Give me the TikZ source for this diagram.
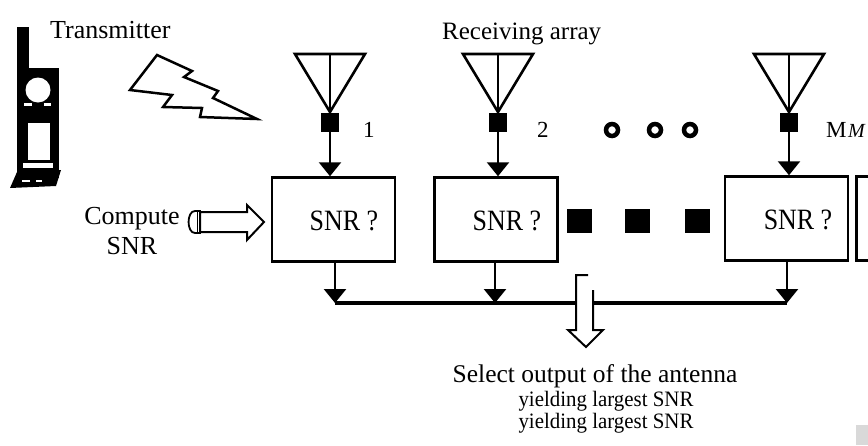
\documentclass[tikz,border=0pt]{standalone}
\usepackage{fontspec}
\setmainfont{Liberation Serif}
\newfontfamily\condfont[FakeStretch=0.88]{Liberation Serif}
\newfontfamily\semifont[FakeStretch=0.95]{Liberation Serif}
\usetikzlibrary{arrows.meta}
\begin{document}
\begin{tikzpicture}[x=1pt,y=-1pt,
  box/.style={draw, line width=2.5pt, minimum width=123pt, minimum height=84pt, inner sep=0pt},
  sq/.style={fill=black, minimum width=18pt, minimum height=19pt, inner sep=0pt},
  ant/.style={line width=2.6pt, line join=miter},
  conn/.style={line width=2.5pt, -{Triangle[width=22pt,length=14pt]}},
  bus/.style={line width=3.5pt},
  lbl/.style={font=\fontsize{23}{26}\selectfont, inner sep=0pt, anchor=base west},
  snr/.style={font=\condfont\fontsize{29.5}{32}\selectfont, inner sep=0pt},
  hollow/.style={line width=2pt, line join=miter, fill=white}
]
\useasboundingbox (0,0) rectangle (868,445);
\clip (0,0) rectangle (868,445);

% transmitter (handset)
\fill (17,27) rectangle (29,70);
\fill (17,68) rectangle (59,178);
\fill[white] (38,90) circle (12.5);
\fill[white] (24,103) rectangle (32,106);
\fill[white] (44,103) rectangle (51,106);
\fill[white] (28,123) rectangle (50,160);
\fill[white] (23,163) rectangle (53,168);
\fill (17,172) -- (61,170) -- (56,186) -- (10,188) -- cycle;
\fill[white] (22,180) rectangle (30,182);
\fill[white] (36,180) rectangle (42,182);
\node[font=\fontsize{26}{30}\selectfont, inner sep=0pt, anchor=base west] (tx) at (50,38) {Transmitter};

% lightning
\draw[line width=2.5pt, line join=miter, fill=white]
  (157,55) -- (192,71) -- (184,77) -- (218,91) -- (213,98) -- (257,119)
  -- (200,117) -- (202,108) -- (163,107) -- (172,95) -- (130,90) -- cycle;

\node[font=\fontsize{25}{30}\selectfont, inner sep=0pt, anchor=base west] (rx) at (442,39) {Receiving array};

% antennas
\foreach \c in {330,498,789}{
  \draw[ant] (\c-35,54) -- (\c+35,54) -- (\c,112) -- cycle;
  \draw[ant] (\c,54) -- (\c,112);
}
\node[sq] (s1) at (330,122.5) {};
\node[sq] (s2) at (498,122.5) {};
\node[sq] (sM) at (789,122.5) {};
\node[lbl] (l1) at (363,137) {1};
\node[lbl] (l2) at (537,137) {2};
\node[lbl] (lM) at (826,137) {M};
\node[lbl, font=\itshape\fontsize{20}{24}\selectfont] (lM2) at (848,137) {M};

% circles
\foreach \x in {612,655,690}{
  \draw[line width=4.5pt] (\x,130) circle (6);
}

% boxes
\node[box] (b1) at (333.5,219.5) {};
\node[box] (b2) at (496,219.5) {};
\node[box] (bM) at (786.5,218.5) {};
\node[box] (bX) at (918,218.5) {};
\node[snr] (t1) at (344,221) {SNR ?};
\node[snr] (t2) at (507,221) {SNR ?};
\node[snr] (tM) at (798,220) {SNR ?};

% small squares
\node[fill=black, minimum width=25pt, minimum height=24pt, inner sep=0pt] (q1) at (579.5,221) {};
\node[fill=black, minimum width=25pt, minimum height=24pt, inner sep=0pt] (q2) at (637.5,221) {};
\node[fill=black, minimum width=25pt, minimum height=24pt, inner sep=0pt] (q3) at (697.5,221) {};

% antenna to box
\draw[conn] (s1.south) -- (s1.south |- b1.north);
\draw[conn] (s2.south) -- (s2.south |- b2.north);
\draw[conn] (sM.south) -- (sM.south |- bM.north);

% boxes to bus
\coordinate (j1) at (335,303);
\coordinate (j2) at (495,303);
\coordinate (jM) at (787,303);
\draw[conn] (b1.south -| j1) -- (j1);
\draw[conn] (b2.south -| j2) -- (j2);
\draw[conn] (bM.south -| jM) -- (jM);
\draw[bus] (j1) -- (jM);

% hollow down arrow
\fill[white] (576,275) -- (593,275) -- (593,330) -- (603,330) -- (586,347) -- (568,330) -- (576,330) -- cycle;
\draw[line width=2pt, line join=miter] (588,275) -- (576,275) -- (576,330) -- (568,330) -- (586,347) -- (603,330) -- (593,330) -- (593,290);

% compute SNR
\node[font=\fontsize{26}{30}\selectfont, align=center, inner sep=0pt] (comp) at (132,231) {Compute\\SNR};
\draw[hollow] (200,212) -- (247,212) -- (247,205) -- (264,222) -- (247,240) -- (247,232) -- (200,232) -- cycle;
\draw[line width=1.8pt, fill=white] (200,211) -- (195,211) to[out=180,in=180] (195,233) -- (200,233) -- cycle;
\draw[line width=1pt] (197,212) -- (197,232);

% result text
\node[font=\fontsize{25.5}{30}\selectfont, inner sep=0pt, anchor=base] (sel1) at (595,382) {Select output of the antenna};
\node[font=\semifont\fontsize{22}{26}\selectfont, inner sep=0pt, anchor=base] (sel2) at (606,406) {yielding largest SNR};
\node[font=\semifont\fontsize{22}{26}\selectfont, inner sep=0pt, anchor=base] (sel3) at (606,428) {yielding largest SNR};

% scan corner
\fill[black!15] (856,425) rectangle (868,445);
\end{tikzpicture}
\end{document}
